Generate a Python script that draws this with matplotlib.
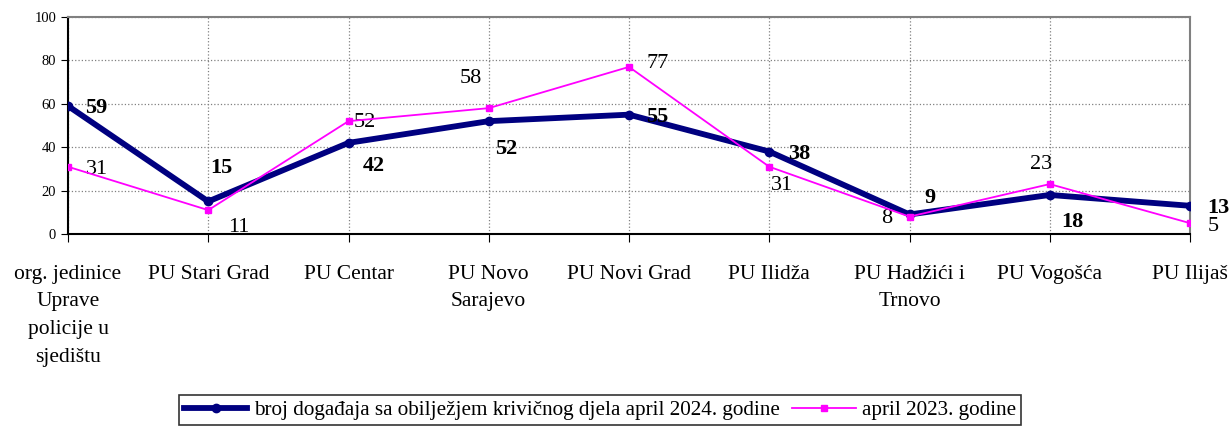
import matplotlib.pyplot as plt

# categories and values
jedinice = ["org. jedinice\nUprave\npolicije u\nsjedištu", "PU Stari Grad", "PU Centar",
            "PU Novo\nSarajevo", "PU Novi Grad", "PU Ilidža", "PU Hadžići i\nTrnovo",
            "PU Vogošća", "PU Ilijaš"]
april_2024 = [59, 15, 42, 52, 55, 38, 9, 18, 13]
april_2023 = [31, 11, 52, 58, 77, 31, 8, 23, 5]

# label offsets in pixels (dx, dy)
off_2024 = [(28, -2), (13, 33), (25, -23), (17, -28), (28, -2), (30, -2), (20, 16), (23, -27), (28, -2)]
off_2023 = [(29, -3), (31, -17), (16, -1), (-18, 30), (29, 3), (13, -19), (-23, -2), (-9, 20), (23, -3)]

plt.rcParams['font.family'] = ['Liberation Serif', 'DejaVu Serif']

fig = plt.figure(figsize=(12.31, 4.30), dpi=100)
ax = fig.add_axes([68 / 1231, 1 - 234 / 430, (1190 - 68) / 1231, (234 - 17) / 430])

x = list(range(len(jedinice)))
l1, = ax.plot(x, april_2024, color='#000080', lw=4.2, marker='o', ms=6, zorder=3,
              label='broj događaja sa obilježjem krivičnog djela april 2024. godine')
l2, = ax.plot(x, april_2023, color='#FF00FF', lw=1.3, marker='s', ms=5, zorder=4,
              label='april 2023. godine')

for i, v in enumerate(april_2024):
    ax.annotate(str(v), (x[i], v), xytext=off_2024[i], textcoords='offset pixels',
                ha='center', va='center', fontsize=16, fontweight='bold', annotation_clip=False)
for i, v in enumerate(april_2023):
    ax.annotate(str(v), (x[i], v), xytext=off_2023[i], textcoords='offset pixels',
                ha='center', va='center', fontsize=16, annotation_clip=False)

ax.set_xlim(0, len(jedinice) - 1)
ax.set_ylim(0, 100)
ax.set_yticks(range(0, 101, 20))
ax.set_xticks(x)
ax.set_xticklabels(jedinice, fontsize=15.5, linespacing=1.63)
ax.tick_params(axis='x', length=6, pad=16, direction='out')
ax.tick_params(axis='y', length=5, labelsize=10.5, direction='out')

ax.grid(True, color='#808080', ls=':', lw=0.9)
for s in ['left', 'bottom']:
    ax.spines[s].set_color('black')
    ax.spines[s].set_linewidth(1.5)
for s in ['top', 'right']:
    ax.spines[s].set_color('#808080')
    ax.spines[s].set_linewidth(1.5)

leg = fig.legend(handles=[l1, l2], loc='center', bbox_to_anchor=(600 / 1231, 1 - 410 / 430),
                 ncol=2, fontsize=15.2, frameon=True, fancybox=False, edgecolor='black',
                 handlelength=3, handletextpad=0.3, columnspacing=0.6, borderpad=0.25)
leg.get_frame().set_linewidth(1.2)

fig.savefig('out.png', dpi=100)
